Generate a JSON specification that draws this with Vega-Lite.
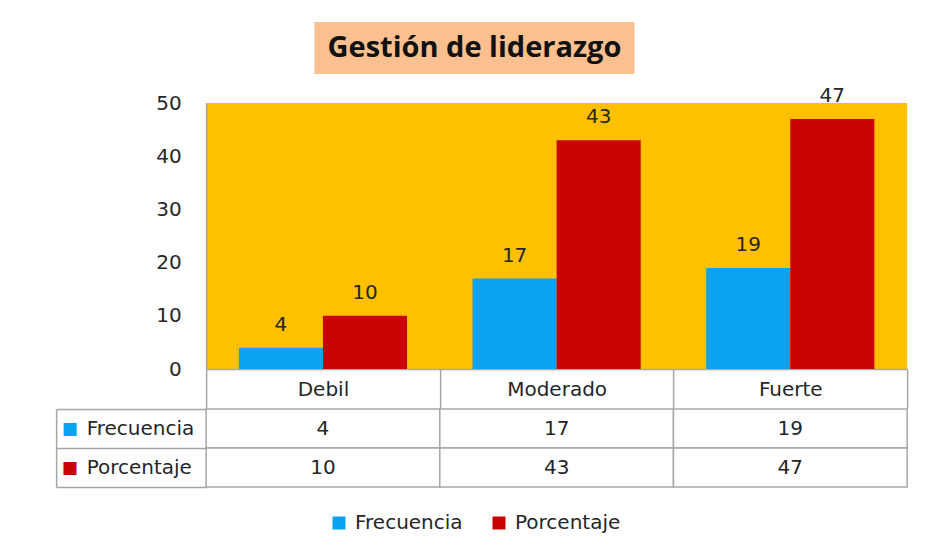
{
  "$schema": "https://vega.github.io/schema/vega-lite/v6.json",
  "background": "white",
  "padding": {"top": 22, "left": 55, "right": 5, "bottom": 5},
  "datasets": {
    "tabla": [
      {"categoria": "Debil", "serie": "Frecuencia", "valor": 4},
      {"categoria": "Debil", "serie": "Porcentaje", "valor": 10},
      {"categoria": "Moderado", "serie": "Frecuencia", "valor": 17},
      {"categoria": "Moderado", "serie": "Porcentaje", "valor": 43},
      {"categoria": "Fuerte", "serie": "Frecuencia", "valor": 19},
      {"categoria": "Fuerte", "serie": "Porcentaje", "valor": 47}
    ],
    "titulo": [{"texto": "Gestión de liderazgo"}]
  },
  "config": {
    "font": "DejaVu Sans",
    "view": {"stroke": null}
  },
  "center": true,
  "spacing": 11,
  "vconcat": [
    {
      "data": {"name": "titulo"},
      "width": 320,
      "height": 52,
      "view": {"fill": "#FAC090", "stroke": null},
      "title": {"text": " ", "orient": "right", "offset": 155, "fontSize": 10, "color": "transparent"},
      "mark": {"type": "text", "font": "Open Sans", "fontWeight": "bold", "fontSize": 29, "color": "#111111", "baseline": "middle", "align": "center"},
      "encoding": {"text": {"field": "texto", "type": "nominal"}}
    },
    {
      "spacing": -10,
      "vconcat": [
        {
          "data": {"name": "tabla"},
          "width": 701,
          "height": 266,
          "view": {"fill": "#FFC000", "stroke": null},
          "encoding": {
            "x": {
              "field": "categoria", "type": "nominal", "sort": ["Debil", "Moderado", "Fuerte"],
              "scale": {"paddingInner": 0, "paddingOuter": 0},
              "axis": {
                "title": null, "labelAngle": 0, "orient": "bottom",
                "tickBand": "extent", "tickSize": 39, "tickColor": "#A6A6A6", "tickWidth": 1.5,
                "domainColor": "#A6A6A6", "domainWidth": 1.5,
                "labelBaseline": "middle", "labelPadding": -19,
                "labelFontSize": 20, "labelColor": "#262626"
              }
            },
            "xOffset": {
              "field": "serie", "type": "nominal", "sort": ["Frecuencia", "Porcentaje"],
              "scale": {"paddingInner": 0, "paddingOuter": 0.39}
            },
            "y": {
              "field": "valor", "type": "quantitative",
              "scale": {"domain": [0, 50]},
              "axis": {
                "title": null, "values": [0, 10, 20, 30, 40, 50], "grid": false, "ticks": false,
                "domainColor": "#A6A6A6", "domainWidth": 1.5,
                "labelPadding": 25, "labelFontSize": 20, "labelColor": "#262626"
              }
            }
          },
          "layer": [
            {
              "mark": {"type": "bar", "strokeWidth": 1, "strokeOpacity": 0.5},
              "encoding": {
                "color": {
                  "field": "serie", "type": "nominal",
                  "scale": {"domain": ["Frecuencia", "Porcentaje"], "range": ["#0AA2F2", "#C80404"]},
                  "legend": {
                    "title": null, "orient": "none", "direction": "horizontal",
                    "legendX": 123, "legendY": 491,
                    "symbolType": "square", "symbolSize": 169, "symbolStrokeWidth": 0,
                    "labelFontSize": 20, "labelColor": "#262626", "labelOffset": 6,
                    "columnPadding": 26
                  }
                }
              }
            },
            {
              "mark": {"type": "text", "baseline": "alphabetic", "dy": -17, "fontSize": 20, "color": "#262626"},
              "encoding": {"text": {"field": "valor", "type": "quantitative"}}
            }
          ]
        },
        {
          "data": {"name": "tabla"},
          "width": 701,
          "height": 78,
          "encoding": {
            "x": {
              "field": "categoria", "type": "nominal", "sort": ["Debil", "Moderado", "Fuerte"],
              "scale": {"paddingInner": 0, "paddingOuter": 0},
              "axis": null
            }
          },
          "layer": [
            {
              "mark": {"type": "rect", "fill": "white", "stroke": "#A6A6A6", "strokeWidth": 1.5},
              "encoding": {
                "y": {
                  "field": "serie", "type": "nominal", "sort": ["Frecuencia", "Porcentaje"],
                  "scale": {"paddingInner": 0, "paddingOuter": 0},
                  "axis": {
                    "orient": "left", "title": null,
                    "tickBand": "extent", "tickSize": 150, "tickColor": "#A6A6A6", "tickWidth": 1.5,
                    "domain": false,
                    "labelAlign": "left", "labelPadding": -30,
                    "labelFontSize": 20, "labelColor": "#262626"
                  }
                }
              }
            },
            {
              "mark": {"type": "text", "fontSize": 20, "color": "#262626"},
              "encoding": {
                "text": {"field": "valor", "type": "quantitative"},
                "y": {
                  "field": "serie", "type": "nominal", "sort": ["Frecuencia", "Porcentaje"],
                  "axis": {
                    "orient": "left", "offset": 150, "title": null, "ticks": false,
                    "domainColor": "#A6A6A6", "domainWidth": 1.5,
                    "labelExpr": "'■'", "labelAlign": "left", "labelPadding": -5,
                    "labelFontSize": 17,
                    "labelColor": {"condition": {"test": "datum.value == 'Frecuencia'", "value": "#0AA2F2"}, "value": "#C80404"}
                  }
                }
              }
            }
          ],
          "resolve": {"axis": {"y": "independent"}}
        }
      ]
    }
  ]
}
